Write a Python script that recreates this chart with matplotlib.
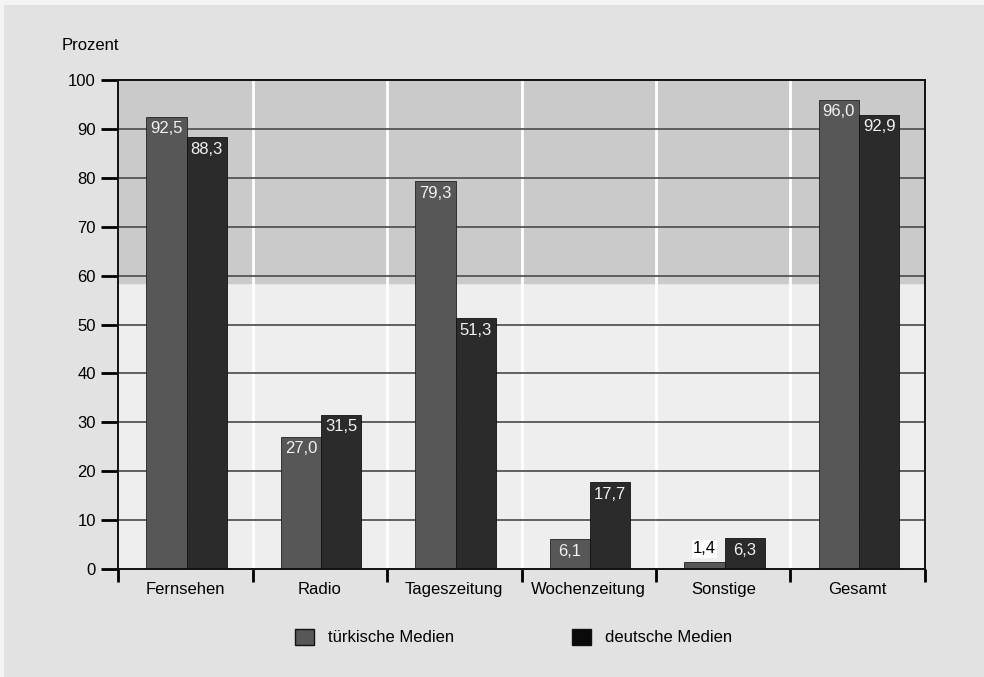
import numpy as np
import matplotlib.pyplot as plt
from matplotlib.patches import Patch, Rectangle

plt.rcParams['font.family'] = ['Liberation Sans', 'DejaVu Sans']

kategorien = ['Fernsehen', 'Radio', 'Tageszeitung', 'Wochenzeitung', 'Sonstige', 'Gesamt']
tuerkisch = [92.5, 27.0, 79.3, 6.1, 1.4, 96.0]
deutsch = [88.3, 31.5, 51.3, 17.7, 6.3, 92.9]
y_ticks = [0, 10, 20, 30, 40, 50, 60, 70, 80, 90, 100]

col_tr = '#575757'
col_de = '#2b2b2b'
fs = 12

fig = plt.figure(figsize=(9.84, 6.77), dpi=100, facecolor='#f4f4f4')
# grey page with a thin light margin on top and left
fig.patches.append(Rectangle((4 / 984, 0), 1, 1 - 5 / 677, transform=fig.transFigure,
                             facecolor='#e2e2e2', edgecolor='none', zorder=-10))

ax = fig.add_axes([0.12, 0.1595, 0.82, 0.7223])
ax.set_facecolor('#eeeeee')

x = np.arange(len(kategorien))
w = 0.3
off = 0.01

# grey band in the upper part of the plot area
ax.axhspan(58.5, 100, color='#cacaca', zorder=0)
for b in np.arange(0.5, len(kategorien) - 0.5, 1):
    ax.axvline(b, color='white', lw=2, zorder=0.5)

for yv in y_ticks[1:-1]:
    ax.axhline(yv, color='#555555', lw=1.3, zorder=1)

bt = ax.bar(x - w / 2 + off, tuerkisch, w, color=col_tr, edgecolor='#222222', lw=0.6, zorder=2)
bd = ax.bar(x + w / 2 + off, deutsch, w, color=col_de, edgecolor='#111111', lw=0.6, zorder=2)

def fmt(v):
    return f'{v:.1f}'.replace('.', ',')

for bars, vals in ((bt, tuerkisch), (bd, deutsch)):
    for r, v in zip(bars, vals):
        cx = r.get_x() + r.get_width() / 2
        if v < 3:
            ax.text(cx, v + 1.2, fmt(v), ha='center', va='bottom', fontsize=fs,
                    color='black', zorder=3,
                    bbox=dict(facecolor='white', edgecolor='none', pad=1.0))
        else:
            ax.text(cx, v - 0.9, fmt(v), ha='center', va='top', fontsize=fs,
                    color='#f2f2f2', zorder=3)

ax.set_xlim(-0.5, len(kategorien) - 0.5)
ax.set_ylim(0, 100)
ax.set_yticks(y_ticks)
ax.tick_params(axis='y', direction='out', length=12, width=2, labelsize=fs, pad=4)

ax.set_xticks(x)
ax.set_xticklabels(kategorien, fontsize=fs)
ax.tick_params(axis='x', which='major', length=0, pad=9)
ax.set_xticks(np.arange(-0.5, len(kategorien) + 0.5, 1), minor=True)
ax.tick_params(axis='x', which='minor', direction='out', length=9, width=2)

for s in ax.spines.values():
    s.set_linewidth(1.4)
    s.set_color('#111111')
    s.set_zorder(4)

fig.text(0.063, 1 - 45 / 677, 'Prozent', fontsize=fs, va='center', ha='left')

handles = [Patch(facecolor=col_tr, edgecolor='#111111', label='türkische Medien'),
           Patch(facecolor='#0a0a0a', edgecolor='#111111', label='deutsche Medien')]
fig.legend(handles=handles, loc='center', bbox_to_anchor=(0.522, 1 - 637 / 677), ncol=2,
           frameon=False, fontsize=fs, handlelength=1.1, handleheight=1.1,
           handletextpad=0.85, columnspacing=7.1)

fig.savefig('out.png', dpi=100, facecolor=fig.get_facecolor())
